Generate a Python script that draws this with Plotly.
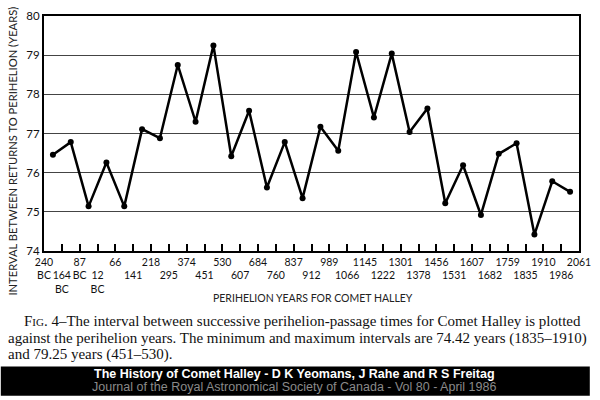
import plotly.graph_objects as go

years = ["240<br>BC", "<br>164<br>BC", "87<br>BC", "<br>12<br>BC", "66", "<br>141", "218", "<br>295",
         "374", "<br>451", "530", "<br>607", "684", "<br>760", "837", "<br>912", "989", "<br>1066",
         "1145", "<br>1222", "1301", "<br>1378", "1456", "<br>1531", "1607", "<br>1682", "1759",
         "<br>1835", "1910", "<br>1986", "2061"]
intervals = [76.46, 76.78, 75.14, 76.26, 75.14, 77.11, 76.88, 78.75, 77.30, 79.25,
             76.42, 77.58, 75.62, 76.78, 75.35, 77.17, 76.56, 79.08, 77.41, 79.04,
             77.04, 77.64, 75.22, 76.19, 74.92, 76.48, 76.75, 74.42, 75.78, 75.51]

W, H = 600, 400
L, R, T, B = 44, 589, 9, 251

def px(x):
    return (x - L) / (R - L)

def py(y):
    return (B - y) / (B - T)

tick_pos = list(range(len(years)))
mid_pos = [i + 0.5 for i in range(len(intervals))]

fig = go.Figure()
fig.add_trace(go.Scatter(
    x=mid_pos, y=intervals, mode="lines+markers",
    line=dict(color="black", width=2.5),
    marker=dict(color="black", size=6),
    showlegend=False, hoverinfo="skip"))

axis_font = dict(family="Lato, DejaVu Sans, sans-serif", size=10.5, color="#111")

fig.update_layout(
    width=W, height=H,
    margin=dict(l=L, r=W - R, t=T, b=H - B),
    paper_bgcolor="white", plot_bgcolor="white",
    xaxis=dict(range=[0, len(years) - 1], tickmode="array", tickvals=tick_pos, ticktext=years,
               ticks="inside", ticklen=7, tickwidth=1.5, tickcolor="black",
               showgrid=False, zeroline=False, showline=True, linecolor="black", linewidth=2,
               mirror=True, tickfont=axis_font, tickangle=0, ticklabeloverflow="allow"),
    yaxis=dict(range=[74, 80], tickmode="array", tickvals=[74, 75, 76, 77, 78, 79, 80],
               ticks="", showgrid=True, gridcolor="#444", gridwidth=1.2, zeroline=False,
               showline=True, linecolor="black", linewidth=2, mirror=True,
               tickfont=dict(family="Lato, DejaVu Sans, sans-serif", size=11.5, color="#111")),
)

ann = []
ann.append(dict(text="INTERVAL BETWEEN RETURNS TO PERIHELION (YEARS)", textangle=-90,
                x=px(12), y=py(148), xref="paper", yref="paper", showarrow=False,
                xanchor="center", yanchor="middle",
                font=dict(family="Lato, DejaVu Sans, sans-serif", size=11.2, color="#222")))
ann.append(dict(text="PERIHELION YEARS FOR COMET HALLEY",
                x=px(318), y=py(299), xref="paper", yref="paper", showarrow=False,
                xanchor="center", yanchor="middle",
                font=dict(family="Lato, DejaVu Sans, sans-serif", size=10.5, color="#222")))

cap = [
    (22, 323, 15, "F<span style='font-size:11px'>IG</span>. 4\u2013The interval between successive perihelion-passage times for Comet Halley is plotted"),
    (5, 341, 15, "against the perihelion years. The minimum and maximum intervals are 74.42 years (1835\u20131910)"),
    (5, 358, 15, "and 79.25 years (451\u2013530)."),
]
for x0, y0, fs, t in cap:
    ann.append(dict(text=t, x=px(x0), y=py(y0), xref="paper", yref="paper", showarrow=False,
                    xanchor="left", yanchor="middle",
                    font=dict(family="Liberation Serif, Times New Roman, serif", size=fs, color="#111")))

ann.append(dict(text="<b>The History of Comet Halley - D K Yeomans, J Rahe and R S Freitag</b>",
                x=px(299), y=py(377.5), xref="paper", yref="paper", showarrow=False,
                xanchor="center", yanchor="middle",
                font=dict(family="Liberation Sans, Arial, sans-serif", size=12.5, color="white")))
ann.append(dict(text="Journal of the Royal Astronomical Society of Canada - Vol 80 - April 1986",
                x=px(299), y=py(391), xref="paper", yref="paper", showarrow=False,
                xanchor="center", yanchor="middle",
                font=dict(family="Liberation Sans, Arial, sans-serif", size=12.5, color="#8a8a8a")))

fig.update_layout(annotations=ann)
fig.add_shape(type="rect", xref="paper", yref="paper", x0=px(0), x1=px(600), y0=py(370), y1=py(400),
              fillcolor="black", line=dict(width=0), layer="below")

fig.write_html("out.html")
